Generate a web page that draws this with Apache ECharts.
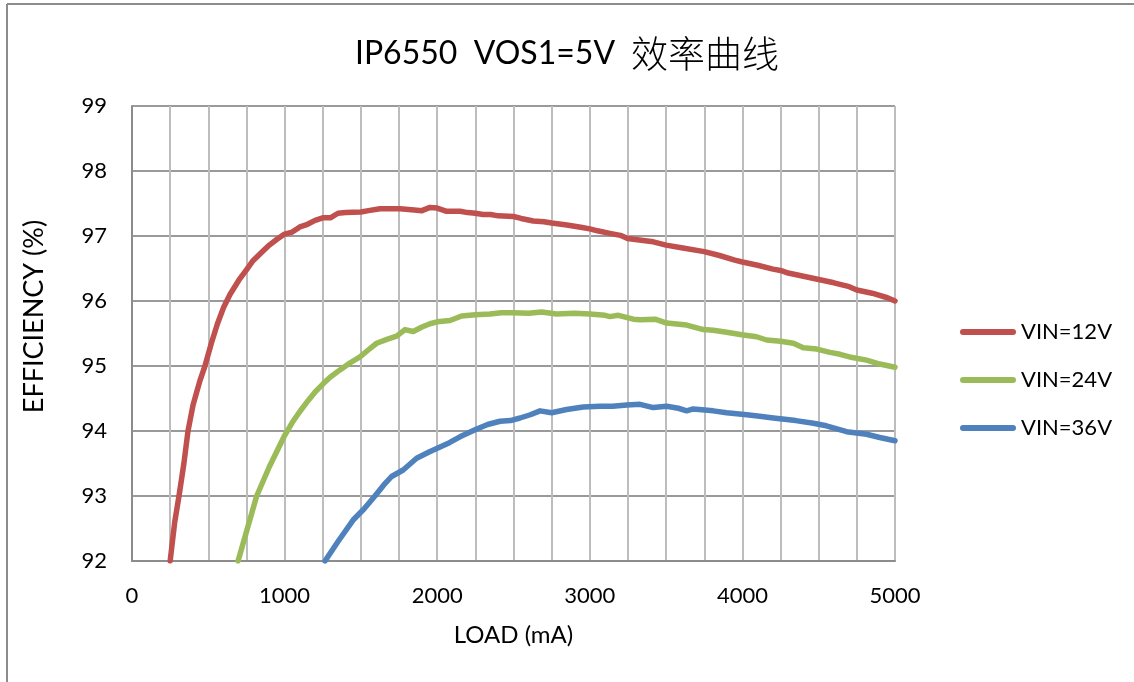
<!DOCTYPE html>
<html>
<head>
<meta charset="utf-8">
<script src="https://cdn.jsdelivr.net/npm/echarts@6/dist/echarts.min.js"></script>
<style>
html,body{margin:0;padding:0;background:#fff;}
#c{width:1134px;height:682px;}
</style>
</head>
<body>
<div id="c"></div>
<script>
var titleLatin = 'IP6550  VOS1=5V';
var titleCJK = '效率曲线';
var seriesNames = ['VIN=12V', 'VIN=24V', 'VIN=36V'];
var xTickLabels = [0, 1000, 2000, 3000, 4000, 5000];

var vin12 = [
[250,92.0],[280,92.6],[308,93.0],[340,93.5],[367,94.0],[400,94.4],[446,94.78],[478,95.0],
[520,95.35],[560,95.65],[600,95.9],[642,96.1],[700,96.32],[750,96.48],[793,96.62],[850,96.75],
[900,96.86],[950,96.95],[1000,97.03],[1050,97.06],[1100,97.14],[1150,97.18],[1200,97.24],[1250,97.28],
[1300,97.28],[1350,97.35],[1400,97.36],[1500,97.37],[1550,97.39],[1625,97.42],[1700,97.42],[1756,97.42],
[1850,97.40],[1900,97.39],[1953,97.44],[2000,97.43],[2062,97.38],[2150,97.38],[2200,97.36],[2250,97.35],
[2300,97.33],[2350,97.33],[2400,97.31],[2500,97.30],[2550,97.27],[2630,97.23],[2700,97.22],[2750,97.20],
[2850,97.17],[2950,97.13],[3000,97.11],[3050,97.08],[3132,97.04],[3200,97.01],[3248,96.96],[3350,96.93],
[3416,96.91],[3500,96.86],[3600,96.82],[3750,96.76],[3850,96.70],[3950,96.63],[4000,96.60],[4100,96.55],
[4200,96.49],[4250,96.47],[4300,96.43],[4400,96.38],[4500,96.33],[4600,96.28],[4700,96.22],[4750,96.17],
[4850,96.12],[4950,96.05],[5000,96.0]
];
var vin24 = [
[695,92.0],[750,92.45],[817,93.0],[900,93.45],[1000,93.93],[1050,94.13],[1100,94.3],[1155,94.47],
[1200,94.6],[1254,94.73],[1300,94.83],[1363,94.94],[1430,95.05],[1494,95.14],[1550,95.25],[1603,95.35],
[1670,95.41],[1734,95.46],[1789,95.56],[1843,95.53],[1900,95.60],[1953,95.65],[2000,95.68],[2084,95.70],
[2160,95.77],[2250,95.79],[2346,95.80],[2420,95.82],[2500,95.82],[2600,95.81],[2684,95.83],[2782,95.80],
[2900,95.81],[3001,95.80],[3100,95.78],[3132,95.76],[3187,95.78],[3285,95.72],[3330,95.71],[3428,95.72],
[3504,95.66],[3635,95.63],[3744,95.56],[3809,95.55],[3897,95.52],[3995,95.48],[4093,95.45],[4159,95.40],
[4250,95.38],[4334,95.35],[4399,95.28],[4487,95.26],[4574,95.21],[4640,95.18],[4720,95.13],[4814,95.09],
[4900,95.03],[5000,94.98]
];
var vin36 = [
[1265,92.0],[1350,92.3],[1449,92.63],[1520,92.8],[1592,93.0],[1650,93.17],[1701,93.30],[1777,93.40],
[1865,93.58],[1950,93.68],[1997,93.73],[2080,93.82],[2149,93.91],[2248,94.02],[2330,94.10],[2412,94.15],
[2480,94.16],[2543,94.20],[2610,94.25],[2674,94.31],[2750,94.28],[2848,94.33],[2957,94.37],[3067,94.38],
[3150,94.38],[3242,94.40],[3329,94.41],[3416,94.36],[3504,94.38],[3580,94.35],[3635,94.31],[3678,94.34],
[3809,94.31],[3897,94.28],[4028,94.25],[4100,94.23],[4203,94.20],[4350,94.16],[4465,94.12],[4550,94.08],
[4683,93.99],[4814,93.95],[4900,93.90],[5000,93.85]
];

var FONT = 'Lato, "Liberation Sans", sans-serif';
var colors = ['#C0504D', '#9BBB59', '#4F81BD'];
var datasets = [vin12, vin24, vin36];

var chart = echarts.init(document.getElementById('c'), null, {renderer: 'canvas'});
var option = {
  animation: false,
  backgroundColor: '#fff',
  color: colors,
  title: {
    text: '{a|' + titleLatin + '}{b|' + titleCJK + '}',
    left: 'center',
    top: 30,
    textStyle: {
      fontWeight: 'normal',
      rich: {
        a: {fontFamily: FONT, fontSize: 32, fontWeight: 'normal', color: '#000'},
        b: {fontFamily: '"Noto Sans CJK SC", sans-serif', fontSize: 37, fontWeight: 300, color: '#000', padding: [0, 0, 0, 16]}
      }
    }
  },
  graphic: [
    {type: 'line', shape: {x1: 7, y1: 4, x2: 1134, y2: 4}, style: {stroke: '#8c8c8c', lineWidth: 2}},
    {type: 'line', shape: {x1: 7, y1: 4, x2: 7, y2: 682}, style: {stroke: '#8c8c8c', lineWidth: 2}}
  ],
  legend: {
    orient: 'vertical',
    left: 960,
    top: 320,
    padding: 0,
    itemWidth: 56,
    itemHeight: 6,
    itemGap: 24,
    icon: 'path://M3,0 L53,0 A3,3 0 0 1 53,6 L3,6 A3,3 0 0 1 3,0 Z',
    textStyle: {fontFamily: FONT, fontSize: 22, color: '#000', lineHeight: 24},
    data: seriesNames
  },
  grid: {left: 132, right: 239, top: 106, bottom: 121, containLabel: false},
  xAxis: {
    type: 'value',
    min: 0, max: 5000, interval: 250,
    name: 'LOAD (mA)',
    nameLocation: 'middle',
    nameGap: 62,
    nameTextStyle: {fontFamily: FONT, fontSize: 24, color: '#000'},
    axisLine: {show: true, lineStyle: {color: '#8c8c8c', width: 2}},
    axisTick: {show: false},
    axisLabel: {
      margin: 24,
      fontFamily: FONT, fontSize: 22, color: '#000',
      formatter: function (v) { return xTickLabels.indexOf(v) >= 0 ? String(v) : ''; }
    },
    splitLine: {show: true, lineStyle: {color: '#bdbdbd', width: 2}}
  },
  yAxis: {
    type: 'value',
    min: 92, max: 99, interval: 1,
    name: 'EFFICIENCY (%)',
    nameLocation: 'middle',
    nameGap: 84,
    nameTextStyle: {fontFamily: FONT, fontSize: 27, color: '#000', padding: [0, 0, 0, 34]},
    axisLine: {show: true, lineStyle: {color: '#8c8c8c', width: 2}},
    axisTick: {show: false},
    axisLabel: {margin: 25, fontFamily: FONT, fontSize: 22, color: '#000'},
    splitLine: {show: true, lineStyle: {color: '#9a9a9a', width: 2}}
  },
  series: seriesNames.map(function (n, i) {
    return {
      name: n,
      type: 'line',
      data: datasets[i],
      symbol: 'none',
      smooth: false,
      clip: true,
      lineStyle: {width: 5.5, color: colors[i], cap: 'round', join: 'round'},
      itemStyle: {color: colors[i]}
    };
  })
};
chart.setOption(option);
</script>
</body>
</html>
